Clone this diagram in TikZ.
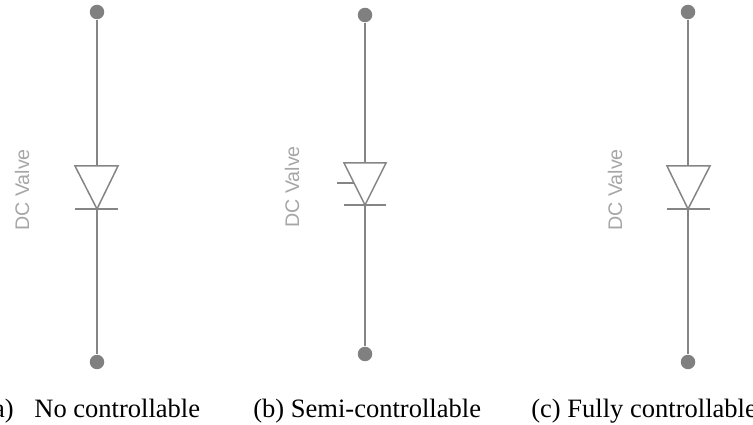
\documentclass[tikz,border=0pt]{standalone}
\usepackage{fontspec}
\setmainfont{Liberation Serif}
\newfontfamily\valvefont{Liberation Sans}
\tikzset{
	terminal/.style={circle, fill=black!50, inner sep=0pt, minimum size=0.29cm},
	wire/.style={color=black!48, line width=0.03cm},
	valvelabel/.style={color=black!35, rotate=90, font=\valvefont\fontsize{11.2pt}{13pt}\selectfont},
	caption/.style={inner sep=0pt, font=\fontsize{15.1pt}{17pt}\selectfont}
}
\begin{document}
\begin{tikzpicture}[x=0.02cm, y=-0.02cm]
		\useasboundingbox (0,0) rectangle (753,425);
		% no controllable
		\node[terminal] (topA) at (97,12) {};
		\node[terminal] (botA) at (97,362) {};
		\coordinate (baseA) at (97,166);
		\coordinate (tipA) at (97,209);
		\draw[wire] (topA) -- (baseA);
		\draw[wire] (tipA) -- (botA);
		\draw[wire, line join=miter] (75,166) -- (118,166) -- (tipA) -- cycle;
		\draw[wire] (75,209) -- (118,209);
		\node[valvelabel] (labelA) at (22,190) {DC Valve};
		\node[caption, anchor=base east] (capAa) at (14,417) {(a)};
		\node[caption, anchor=base west] (capA) at (34,417) {No controllable};
		% semi-controllable
		\node[terminal] (topB) at (365,15) {};
		\node[terminal] (botB) at (365,354) {};
		\coordinate (baseB) at (365,163);
		\coordinate (tipB) at (365,205);
		\draw[wire] (topB) -- (baseB);
		\draw[wire] (tipB) -- (botB);
		\draw[wire, line join=miter] (344,163) -- (386,163) -- (tipB) -- cycle;
		\draw[wire] (344,205) -- (386,205);
		\draw[wire] (337,183) -- (354,183);
		\node[valvelabel] (labelB) at (292,187) {DC Valve};
		\node[caption, anchor=base west] (capB) at (253,417) {(b) Semi-controllable};
		% fully controllable
		\node[terminal] (topC) at (688,12) {};
		\node[terminal] (botC) at (688,362) {};
		\coordinate (baseC) at (688,166);
		\coordinate (tipC) at (688,209);
		\draw[wire] (topC) -- (baseC);
		\draw[wire] (tipC) -- (botC);
		\draw[wire, line join=miter] (667,166) -- (710,166) -- (tipC) -- cycle;
		\draw[wire] (667,209) -- (710,209);
		\node[valvelabel] (labelC) at (615,190) {DC Valve};
		\node[caption, anchor=base west] (capC) at (531,417) {(c) Fully controllable};
	\end{tikzpicture}
\end{document}
